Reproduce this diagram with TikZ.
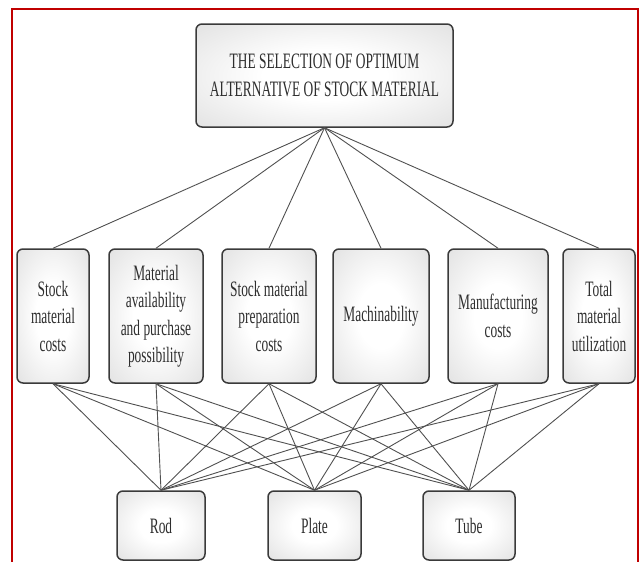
\documentclass[tikz,border=0pt]{standalone}
\usepackage{fontspec}
\setmainfont{Liberation Serif}[FakeStretch=0.61]
\usepackage{xcolor}
\definecolor{framered}{HTML}{C00000}
\definecolor{boxline}{HTML}{3A3A3A}
\definecolor{wire}{HTML}{505050}
\pgfdeclareradialshading{boxshade}{\pgfpoint{0bp}{0bp}}{color(0bp)=(white); color(12bp)=(white); color(50bp)=(black!18); color(72bp)=(black!30)}

\begin{document}
\begin{tikzpicture}[x=1pt, y=-1pt,
    box/.style={draw=boxline, line width=1.5pt, rounded corners=6pt, shading=boxshade,
                text=black!82, align=center, inner sep=0pt, font=\fontsize{22}{27.5}\selectfont},
    crit/.style={box, minimum height=134pt},
    alt/.style={box, minimum height=69pt},
    wire/.style={draw=wire, line width=0.9pt}]
            \useasboundingbox (0,0) rectangle (640,562);
            \draw[framered, line width=2pt] (12,580) -- (12,9) -- (638,9) -- (638,580);
            % goal
            \node[box, minimum width=257pt, minimum height=103pt] (sel) at (324.5,75.5) {THE SELECTION OF OPTIMUM\\ALTERNATIVE OF STOCK MATERIAL};
            % criteria
            \node[crit, minimum width=72pt] (cost) at (53,316) {Stock\\material\\costs};
            \node[crit, minimum width=94pt] (avail) at (156,316) {Material\\availability\\and purchase\\possibility};
            \node[crit, minimum width=94pt] (prep) at (269,316) {Stock material\\preparation\\costs};
            \node[crit, minimum width=96pt] (mach) at (381,316) {Machinability};
            \node[crit, minimum width=100pt] (manuf) at (498,316) {Manufacturing\\costs};
            \node[crit, minimum width=72pt] (util) at (599,316) {Total\\material\\utilization};
            % alternatives
            \node[alt, minimum width=88pt] (rod) at (161,525.5) {Rod};
            \node[alt, minimum width=93pt] (plate) at (314.5,525.5) {Plate};
            \node[alt, minimum width=92pt] (tube) at (469,525.5) {Tube};
            \foreach \c in {cost,avail,prep,mach,manuf,util} {
                \path[wire] (sel.south) -- (\c.north);
                \foreach \a in {rod,plate,tube}
                    \path[wire] (\c.south) -- (\a.north);
            }
        \end{tikzpicture}
\end{document}
